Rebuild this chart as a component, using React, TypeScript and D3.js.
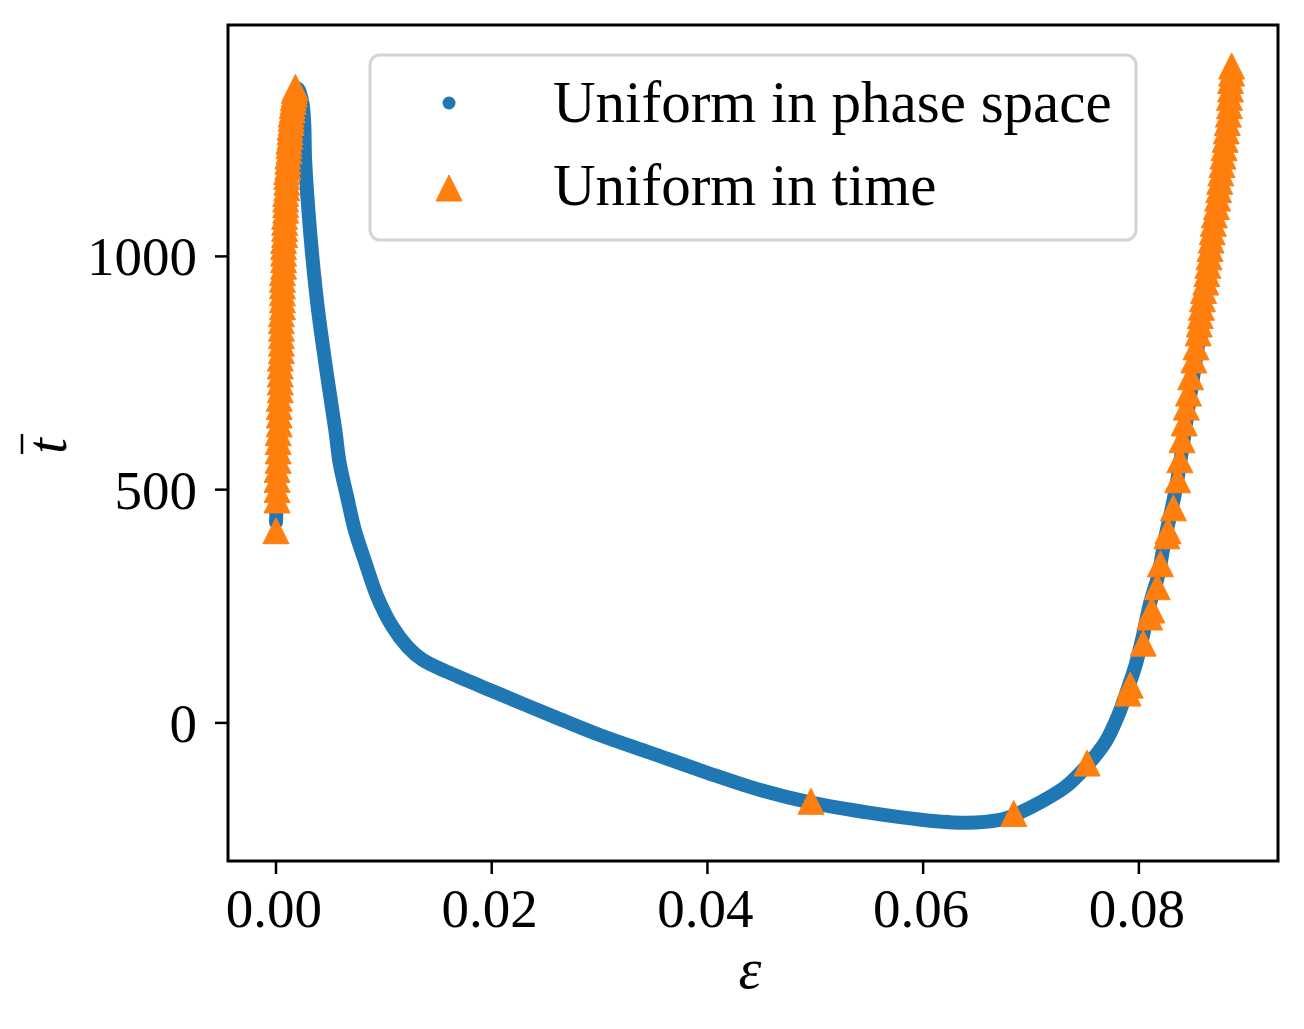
import React from "react";
import * as d3 from "d3";

// ---- data ----
const xTicks = [0, 0.02, 0.04, 0.06, 0.08];
const xTickLabels = ["0.00", "0.02", "0.04", "0.06", "0.08"];
const yTicks = [0, 500, 1000];
const yTickLabels = ["0", "500", "1000"];

// "Uniform in phase space" curve (eps, tbar)
const phaseEps = [
  0.0, 0.0001, 0.0002, 0.0004, 0.0006, 0.0009, 0.0012, 0.0016, 0.002, 0.0024,
  0.0026, 0.0027, 0.003, 0.0034, 0.0039, 0.0048, 0.0055, 0.0059, 0.0066, 0.0073,
  0.0083, 0.0094, 0.0108, 0.0122, 0.0136, 0.0161, 0.0205, 0.0254, 0.03, 0.0347,
  0.04, 0.0449, 0.0496, 0.0551, 0.06, 0.064, 0.0671, 0.0683, 0.0708, 0.0732,
  0.0751, 0.0769, 0.0781, 0.079, 0.0797, 0.0804, 0.081, 0.0818, 0.0824, 0.0834,
  0.0847, 0.0857, 0.0868, 0.0877, 0.0885, 0.0886,
];
const phaseT = [
  430, 500, 600, 720, 960, 1180, 1290, 1345, 1360, 1335,
  1293, 1207, 1100, 992, 885, 735, 628, 557, 484, 414,
  343, 270, 206, 163, 135, 107, 64, 17, -26, -64,
  -107, -144, -171, -193, -208, -214, -208, -199, -171, -137,
  -94, -41, 17, 75, 124, 189, 253, 317, 392, 499,
  692, 842, 1014, 1185, 1357, 1400,
];

// "Uniform in time" samples (eps, tbar)
const timeEps = [
  // left column
  0.0, 0.0001, 0.0001, 0.0001, 0.0001, 0.0002, 0.0002, 0.0002, 0.0002, 0.0003,
  0.0003, 0.0003, 0.0003, 0.0004, 0.0004, 0.0004, 0.0004, 0.0004, 0.0005, 0.0005,
  0.0005, 0.0005, 0.0005, 0.0005, 0.0006, 0.0006, 0.0006, 0.0006, 0.0006, 0.0006,
  0.0007, 0.0007, 0.0007, 0.0007, 0.0007, 0.0008, 0.0008, 0.0008, 0.0008, 0.0009,
  0.0009, 0.0009, 0.0009, 0.001, 0.001, 0.001, 0.001, 0.0011, 0.0011, 0.0011,
  0.0012, 0.0012, 0.0012, 0.0013, 0.0013, 0.0013, 0.0014, 0.0014, 0.0014, 0.0015,
  0.0015, 0.0016, 0.0016, 0.0017, 0.0017, 0.0018,
  // bottom / right branch
  0.0496, 0.0684, 0.0752, 0.079, 0.0792, 0.0804, 0.081, 0.0812, 0.0817, 0.082,
  0.0826, 0.0827, 0.0832, 0.0836, 0.0838, 0.084, 0.0842, 0.0844, 0.0846, 0.0848,
  0.0851, 0.0853, 0.0855, 0.0856, 0.0857, 0.0858, 0.0859, 0.086, 0.0862, 0.0863,
  0.0864, 0.0865, 0.0866, 0.0867, 0.0868, 0.0869, 0.087, 0.0872, 0.0873, 0.0874,
  0.0875, 0.0876, 0.0877, 0.0878, 0.0879, 0.088, 0.0881, 0.0882, 0.0883, 0.0884,
  0.0884, 0.0885, 0.0885, 0.0886, 0.0886,
];
const timeT = [
  412, 478, 500, 522, 543, 563, 583, 603, 622, 641,
  660, 678, 696, 714, 731, 748, 765, 782, 798, 814,
  830, 846, 862, 877, 892, 907, 922, 937, 951, 965,
  979, 993, 1007, 1021, 1034, 1047, 1060, 1073, 1086, 1099,
  1111, 1123, 1135, 1147, 1159, 1171, 1182, 1193, 1204, 1215,
  1226, 1237, 1247, 1257, 1267, 1277, 1287, 1296, 1305, 1314,
  1323, 1332, 1340, 1348, 1356, 1362,
  -168, -194, -86, 64, 81, 171, 227, 242, 292, 341,
  401, 412, 461, 521, 564, 607, 643, 677, 707, 742,
  778, 806, 836, 855, 873, 891, 909, 927, 945, 963,
  981, 999, 1017, 1035, 1053, 1071, 1089, 1107, 1125, 1143,
  1161, 1179, 1197, 1215, 1233, 1251, 1269, 1287, 1305, 1323,
  1341, 1359, 1377, 1393, 1408,
];

const legendLabels = ["Uniform in phase space", "Uniform in time"];

const BLUE = "#1f77b4";
const ORANGE = "#ff7f0e";
const FONT = "'Liberation Serif', 'Times New Roman', serif";

export default function App() {
  const W = 1304;
  const H = 1029;
  const left = 228, right = 1278, top = 25, bottom = 861;

  const x = d3.scaleLinear().domain([-0.00445, 0.0929]).range([left, right]);
  const y = d3.scaleLinear().domain([-296, 1496]).range([bottom, top]);

  const phasePts: [number, number][] = phaseEps.map((e, i) => [e, phaseT[i]]);
  const line = d3
    .line<[number, number]>()
    .x((d) => x(d[0]))
    .y((d) => y(d[1]))
    .curve(d3.curveCatmullRom.alpha(0.5));

  const tri = (h: number) => `M0,${-h}L${h},${h}L${-h},${h}Z`;

  return (
    <svg
      width={W}
      height={H}
      style={{ position: "absolute", left: 0, top: 0, background: "#fff" }}
      fontFamily={FONT}
    >
      <rect x={0} y={0} width={W} height={H} fill="#fff" />
      <defs>
        <clipPath id="plot">
          <rect x={left} y={top} width={right - left} height={bottom - top} />
        </clipPath>
      </defs>

      <g clipPath="url(#plot)">
        <path
          d={line(phasePts) || ""}
          fill="none"
          stroke={BLUE}
          strokeWidth={14}
          strokeLinecap="round"
          strokeLinejoin="round"
        />
        {timeEps.map((e, i) => (
          <path
            key={i}
            d={tri(13)}
            transform={`translate(${x(e)},${y(timeT[i])})`}
            fill={ORANGE}
            stroke={ORANGE}
            strokeWidth={1}
          />
        ))}
      </g>

      {/* spines */}
      <rect
        x={left}
        y={top}
        width={right - left}
        height={bottom - top}
        fill="none"
        stroke="#000"
        strokeWidth={3}
      />

      {/* x ticks */}
      {xTicks.map((v, i) => (
        <g key={"x" + i}>
          <line x1={x(v)} x2={x(v)} y1={bottom} y2={bottom + 13} stroke="#000" strokeWidth={2.5} />
          <text x={x(v) - 2} y={927} fontSize={55} textAnchor="middle" fill="#000">
            {xTickLabels[i]}
          </text>
        </g>
      ))}

      {/* y ticks */}
      {yTicks.map((v, i) => (
        <g key={"y" + i}>
          <line x1={left - 13} x2={left} y1={y(v)} y2={y(v)} stroke="#000" strokeWidth={2.5} />
          <text x={197} y={y(v) + 19} fontSize={55} textAnchor="end" fill="#000">
            {yTickLabels[i]}
          </text>
        </g>
      ))}

      {/* axis labels */}
      <text x={750} y={988} fontSize={58} fontStyle="italic" textAnchor="middle" fill="#000">
        ε
      </text>
      <g transform="translate(66,446) rotate(-90)">
        <text x={0} y={0} fontSize={56} fontStyle="italic" textAnchor="middle" fill="#000">
          t
        </text>
        <line x1={-8} x2={12} y1={-44} y2={-44} stroke="#000" strokeWidth={2.5} />
      </g>

      {/* legend */}
      <rect
        x={370}
        y={55}
        width={766}
        height={185}
        rx={10}
        ry={10}
        fill="#fff"
        fillOpacity={0.8}
        stroke="#d4d4d4"
        strokeWidth={3}
      />
      <circle cx={449} cy={103} r={6.5} fill={BLUE} />
      <path d={tri(13)} transform="translate(449,188)" fill={ORANGE} stroke={ORANGE} strokeWidth={1} />
      <text x={553} y={122} fontSize={59} fill="#000">
        {legendLabels[0]}
      </text>
      <text x={553} y={205} fontSize={59} fill="#000">
        {legendLabels[1]}
      </text>
    </svg>
  );
}
